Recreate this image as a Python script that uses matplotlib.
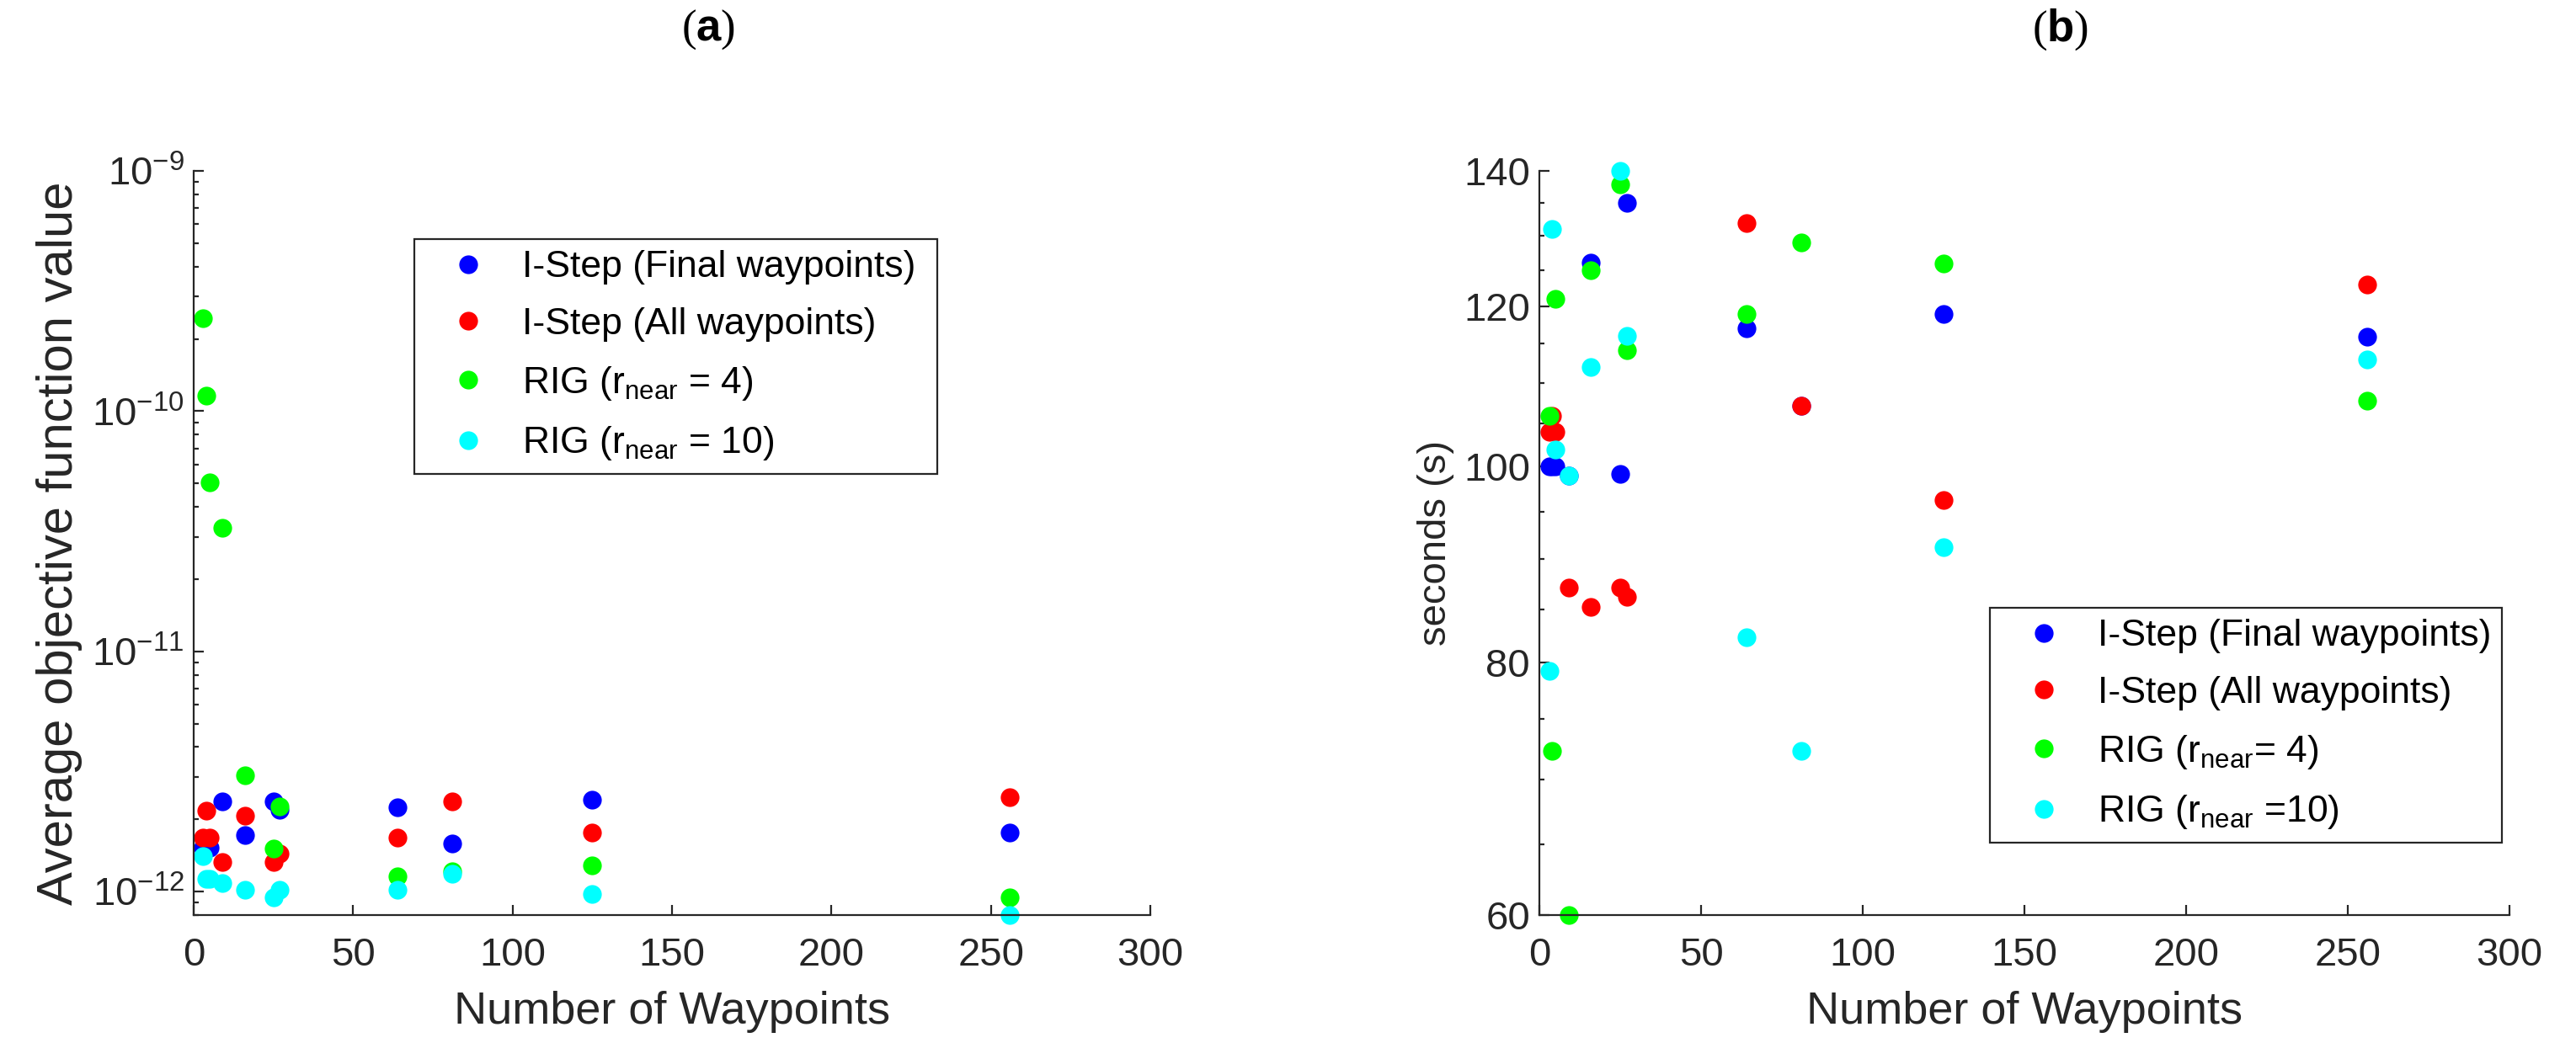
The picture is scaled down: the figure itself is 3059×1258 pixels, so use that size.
import matplotlib
matplotlib.use("Agg")
import matplotlib.pyplot as plt
from matplotlib.ticker import FixedLocator, NullFormatter, FixedFormatter, LogLocator

plt.rcParams['font.family'] = ['Liberation Sans', 'DejaVu Sans']
plt.rcParams['mathtext.fontset'] = 'custom'
plt.rcParams['mathtext.rm'] = 'Liberation Sans'
plt.rcParams['mathtext.it'] = 'Liberation Sans:italic'
plt.rcParams['mathtext.bf'] = 'Liberation Sans:bold'

# number of waypoints (x values shared by every series)
waypoints = [3, 4, 5, 9, 16, 25, 27, 64, 81, 125, 256]

# (a) average objective function value
obj_final = [1.53e-12, 1.53e-12, 1.53e-12, 2.37e-12, 1.72e-12, 2.37e-12, 2.19e-12, 2.24e-12, 1.59e-12, 2.41e-12, 1.77e-12]
obj_all = [1.68e-12, 2.18e-12, 1.68e-12, 1.33e-12, 2.08e-12, 1.33e-12, 1.44e-12, 1.68e-12, 2.38e-12, 1.77e-12, 2.47e-12]
obj_rig4 = [2.44e-10, 1.16e-10, 5.07e-11, 3.27e-11, 3.05e-12, 1.51e-12, 2.27e-12, 1.16e-12, 1.22e-12, 1.29e-12, 9.5e-13]
obj_rig10 = [1.41e-12, 1.13e-12, 1.13e-12, 1.09e-12, 1.02e-12, 9.5e-13, 1.02e-12, 1.02e-12, 1.19e-12, 9.8e-13, 8.0e-13]

# (b) computation time in seconds
time_final = [100.0, 100.0, 100.0, 99.0, 126.1, 99.1, 135.0, 117.0, 107.1, 119.0, 115.9]
time_all = [104.0, 105.9, 104.0, 87.1, 85.2, 87.1, 86.2, 131.9, 107.1, 96.2, 123.0]
time_rig4 = [105.9, 72.3, 121.0, 60.0, 125.0, 137.9, 114.1, 119.0, 129.0, 126.0, 107.8]
time_rig10 = [79.2, 131.0, 101.9, 99.0, 112.0, 140.0, 116.0, 82.3, 72.3, 91.2, 112.9]

colors = ['#0000ff', '#ff0000', '#00ff00', '#00ffff']
labels_a = ['I-Step (Final waypoints) ', 'I-Step (All waypoints)',
            'RIG (r$_{\\mathregular{near}}$ = 4)', 'RIG (r$_{\\mathregular{near}}$ = 10)']
labels_b = ['I-Step (Final waypoints)', 'I-Step (All waypoints)',
            'RIG (r$_{\\mathregular{near}}$= 4)', 'RIG (r$_{\\mathregular{near}}$ =10)']

dark = '#262626'
W, H = 3059, 1258
fig = plt.figure(figsize=(W / 100, H / 100), dpi=100)

ax1 = fig.add_axes([230 / W, 1 - 1087 / H, 1136 / W, 884 / H])
ax2 = fig.add_axes([1828 / W, 1 - 1087 / H, 1152 / W, 884 / H])


def style(ax):
    for s in ['top', 'right']:
        ax.spines[s].set_visible(False)
    for s in ['left', 'bottom']:
        ax.spines[s].set_color(dark)
        ax.spines[s].set_linewidth(1.6)
    ax.tick_params(which='both', direction='in', colors=dark, width=1.6, labelsize=34)
    ax.tick_params(which='major', length=8.5)
    ax.tick_params(which='minor', length=4.5)
    ax.tick_params(axis='x', pad=19)
    ax.tick_params(axis='y', pad=8)
    ax.set_xlim(0, 300)
    ax.set_xticks(range(0, 301, 50))
    ax.set_xlabel('Number of Waypoints', fontsize=39, color=dark, labelpad=14)


leg_kw = dict(loc='upper left', bbox_transform=fig.transFigure, borderaxespad=0,
              fontsize=32, frameon=True, fancybox=False, framealpha=1, edgecolor=dark,
              handlelength=2.3, handletextpad=0.27, borderpad=0.3, labelspacing=0.6,
              numpoints=1, markerscale=1.0)

# panel (a)
for ys, c, lab in zip([obj_final, obj_all, obj_rig4, obj_rig10], colors, labels_a):
    ax1.plot(waypoints, ys, linestyle='none', marker='o', markersize=16,
             markeredgewidth=0, color=c, label=lab, clip_on=False)
ax1.set_yscale('log')
ax1.set_ylim(8e-13, 1e-9)
ax1.yaxis.set_major_locator(LogLocator(base=10, numticks=10))
ax1.yaxis.set_minor_locator(LogLocator(base=10, subs=range(2, 10), numticks=20))
ax1.yaxis.set_minor_formatter(NullFormatter())
ax1.set_ylabel('Average objective function value', fontsize=43, color=dark, labelpad=8)
style(ax1)

leg1 = ax1.legend(bbox_to_anchor=(492 / W, 1 - 284 / H), **leg_kw)
leg1.get_frame().set_linewidth(1.6)

# panel (b)
for ys, c, lab in zip([time_final, time_all, time_rig4, time_rig10], colors, labels_b):
    ax2.plot(waypoints, ys, linestyle='none', marker='o', markersize=16,
             markeredgewidth=0, color=c, label=lab, clip_on=False)
ax2.set_yscale('log')
ax2.set_ylim(60, 140)
ax2.yaxis.set_major_locator(FixedLocator([60, 80, 100, 120, 140]))
ax2.yaxis.set_major_formatter(FixedFormatter(['60', '80', '100', '120', '140']))
ax2.yaxis.set_minor_locator(FixedLocator([65, 70, 75, 85, 90, 95, 105, 110, 115, 125, 130, 135]))
ax2.yaxis.set_minor_formatter(NullFormatter())
ax2.set_ylabel('seconds (s)', fontsize=34, color=dark, labelpad=8)
style(ax2)

leg2 = ax2.legend(bbox_to_anchor=(2363 / W, 1 - 722 / H), **leg_kw)
leg2.get_frame().set_linewidth(1.6)

# panel titles
fig.text(841 / W, 1 - 35 / H, '(' + r'$\mathbf{a}$' + ')', ha='center', va='center',
         fontsize=38, family='Liberation Serif')
fig.text(2447 / W, 1 - 35 / H, '(' + r'$\mathbf{b}$' + ')', ha='center', va='center',
         fontsize=38, family='Liberation Serif')

fig.savefig('out.png', dpi=100)
